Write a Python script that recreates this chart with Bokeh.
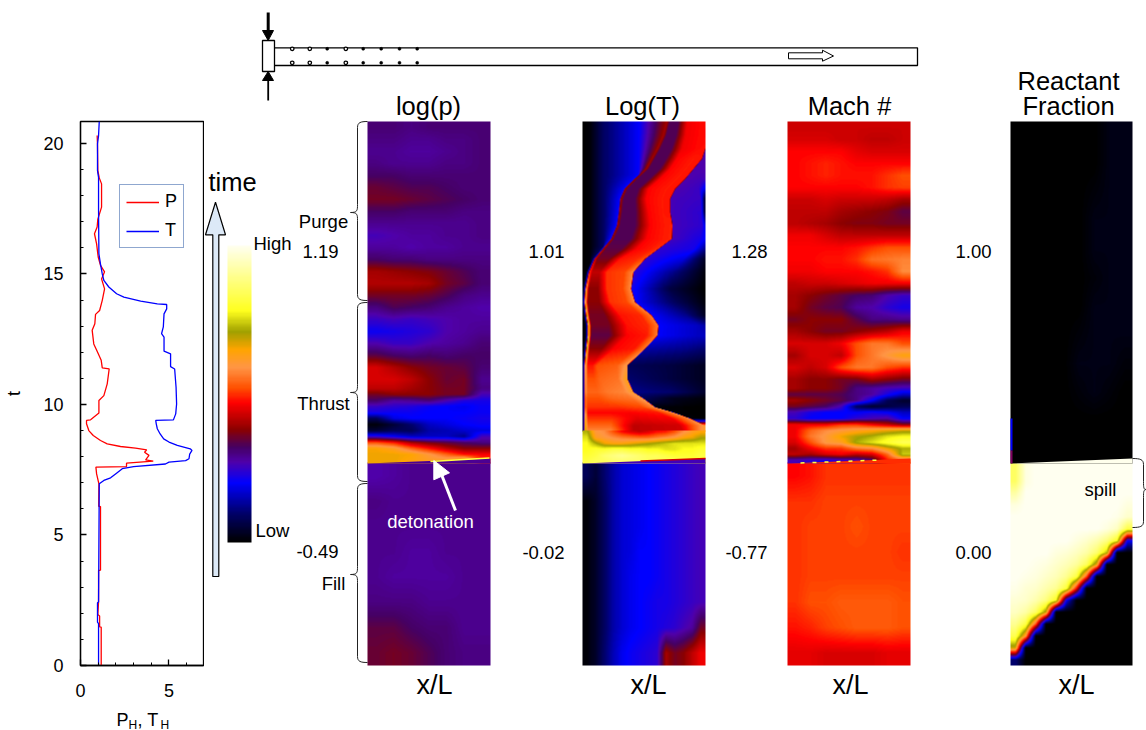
import numpy as np
from bokeh.plotting import figure
from bokeh.layouts import row, column
from bokeh.models import (Range1d, LinearColorMapper, FixedTicker, Legend)
from bokeh.core.properties import value
from bokeh.embed import file_html
from bokeh.resources import INLINE

FONT = "Liberation Sans"

# ---- history curves (t, value) ----
T_t = [0,1.6,1.66,2.4,2.43,6.96,7.09,7.19,7.35,7.54,7.62,7.72,7.79,7.85,7.92,8.1,8.24,8.3,8.35,8.43,8.56,8.68,8.87,9.07,9.26,9.39,9.41,9.64,10.02,10.66,11.36,11.45,11.94,12.04,12.58,12.71,12.97,13.47,13.66,13.83,13.85,13.96,14.11,14.24,14.5,14.75,15.0,15.38,15.77,17.43,18.7,18.96,19.98,20.3,20.84]
T_v = [1.02,1.02,0.96,0.96,1.02,1.06,1.32,1.7,2.0,2.36,3.0,4.8,5.0,5.94,6.13,6.17,6.3,6.2,5.94,5.47,5.0,4.7,4.5,4.34,4.28,4.25,5.25,5.38,5.43,5.4,5.32,5.09,5.09,4.72,4.72,4.58,4.68,4.72,4.87,4.87,4.34,3.4,2.45,2.04,1.6,1.32,1.23,1.13,1.04,1.02,1.02,0.96,0.96,1.02,1.06]
P_t = [0,1.47,1.48,1.9,1.95,2.43,3.64,3.65,6.09,6.1,6.96,7.34,7.6,7.62,7.75,7.83,7.88,8.05,8.17,8.26,8.33,8.39,8.49,8.62,8.81,9.0,9.26,9.39,9.41,9.67,10.15,10.34,10.79,11.36,11.4,11.69,12.04,12.32,12.84,13.09,13.45,13.6,13.99,14.43,14.81,15.08,15.33,15.65,16.15,16.54,16.8,17.1,17.56,18.45,18.68,18.96,19.98,20.3]
P_v = [1.17,1.17,1.08,1.08,0.98,1.02,1.02,1.13,1.13,1.03,1.04,0.91,0.87,2.6,2.6,4.11,3.68,3.87,3.62,3.74,3.11,2.26,1.51,1.13,0.72,0.47,0.34,0.34,0.57,1.04,1.04,1.32,1.51,1.62,1.23,1.17,0.94,0.75,0.66,0.81,0.85,1.08,1.23,1.36,1.19,1.36,1.13,1.0,0.91,0.79,0.94,0.98,1.19,1.19,1.06,0.98,0.96,0.94]

# ---- colour scale (level 0-100 -> colour) ----
stop_level = [0,10,20,27,32,38,47,52,59,65,71,78,100]
stop_rgb = [(0,0,0),(0,0,110),(0,0,255),(80,0,170),(70,0,100),(140,0,0),(255,0,0),(255,80,0),(255,150,70),(255,165,0),(160,160,0),(255,255,30),(255,255,240)]
bar_levels = [100,78,71,65,59,52,47,38,32,27,20,10,0]

# ---- field tables: rows top to bottom, columns left to right (colour-scale level) ----
P_upper = [
[31,31,30,31,31,31,31],[30,30,29,29,30,30,31],[29,29,28,28,29,30,31],[30,29,29,29,30,30,31],
[32,32,31,31,31,31,31],[35,34,33,33,32,31,31],[36,36,35,34,33,32,31],[32,32,31,31,31,30,30],
[29,29,29,29,29,29,30],[26,27,28,28,29,29,30],[28,28,27,28,28,29,29],[32,31,31,30,30,30,30],
[40,39,38,37,35,33,31],[41,41,41,40,36,34,31],[36,36,36,35,33,30,29],[30,33,32,31,29,28,27],
[25,26,25,26,27,28,28],[21,22,23,24,27,28,29],[27,25,25,27,28,29,31],[34,32,31,32,31,32,32],
[44,41,38,36,35,34,31],[44,44,42,38,35,36,29]]
P_mid = [
[42,42,40,38,36,36,30],[36,38,38,38,36,36,26],[32,28,29,31,27,23,22],[25,24,23,21,20,19,21],
[22,21,21,20,20,20,21],[8,18,20,20,20,21,22],[1,5,10,16,18,20,21],[5,8,8,14,15,17,18],
[24,20,16,16,16,12,26],[52,48,40,36,34,32,30],[65,62,54,48,42,38,38],[66,66,65,60,54,48,47],
[66,66,64,62,62,70,50]]
P_lower = [
[27,28,29,29,29,29,29],[30,29,29,29,29,29,29],[29,29,29,29,29,29,29],[29,29,28,28,29,29,29],
[29,28,28,28,28,29,29],[30,30,30,29,29,29,29],[34,34,32,31,31,29,29],[35,36,35,33,31,30,30]]

# Log(T) hot band, rows top to bottom, read as
# pixel row in the 3x crop, stripe x, stripe level, inner level, band start x, band level,
# outer edge x, edge level, level outside the edge, far x, far level, wall level
T_band = [
[20,290,40,33,350,46,420,47,27,425,27,27],[60,280,40,33,345,46,415,47,27,420,27,27],
[100,262,40,33,335,46,405,48,27,410,27,27],[130,245,40,33,320,47,395,48,27,400,27,27],
[160,228,40,33,300,47,370,48,27,395,27,27],[190,195,40,33,270,47,345,48,27,390,26,26],
[220,165,40,33,235,47,315,48,27,385,25,18],[250,152,40,33,228,47,300,48,26,390,25,2],
[290,148,40,33,235,47,300,48,26,392,24,3],[330,142,40,33,240,47,307,49,26,395,24,18],
[370,125,40,33,230,47,305,49,26,390,22,20],[400,100,42,34,200,47,265,50,24,370,22,12],
[430,75,44,36,150,48,225,52,24,340,18,3],[470,58,50,42,110,50,190,58,24,310,12,1],
[520,48,62,38,110,50,183,58,22,300,6,0],[560,45,68,38,120,50,195,58,20,320,8,1],
[600,50,70,36,150,48,245,56,20,350,12,3],[630,55,72,36,170,48,265,56,20,380,16,14],
[660,55,74,34,170,47,262,56,20,380,16,16],[700,50,72,38,130,47,225,56,14,350,12,10],
[750,45,64,48,80,52,172,60,8,300,6,3],[790,45,62,52,90,54,172,64,10,300,6,3],
[830,45,60,54,110,56,190,62,12,300,10,4],[849,45,56,52,120,54,220,60,8,300,3,1],
[875,45,56,50,140,50,255,58,1,380,0,0],[891,45,62,47,180,47,310,58,1,380,0,0],
[909,45,68,50,200,45,360,58,1,400,0,0],[930,45,70,54,190,42,402,60,60,410,60,60],
[948,45,72,58,190,42,415,64,64,420,64,64]]
Tf_mid = [
[72,60,58,52,47,44,42,44,47,48,52,58,62,64],
[76,62,60,58,56,55,54,54,56,58,60,64,66,70],[78,72,66,64,64,66,68,70,72,74,76,76,76,76],
[78,80,80,82,82,80,80,78,78,76,76,78,78,80],[80,82,86,88,90,88,86,84,84,82,80,80,80,82],
[82,84,84,86,86,86,86,84,84,84,84,84,80,78]]
Tf_lower = [
[8,5,10,14,17,18,19,20,21,22,23,24,25,26],[1,4,9,14,17,18,19,20,21,22,23,24,25,26],
[1,4,9,14,17,18,19,20,21,22,23,24,25,26],[1,4,9,14,17,18,20,20,21,22,23,24,25,26],
[1,4,9,14,17,19,20,20,21,22,23,24,25,26],[1,4,9,14,17,19,20,21,22,22,23,24,25,26],
[1,4,9,14,17,19,20,21,22,23,24,26,28,36],[1,4,10,15,19,21,22,23,24,40,36,38,42,46]]

M_upper = [
[43,43,43,43,43,43,43,43],[44,44,44,43,43,42,42,43],[47,47,47,47,45,44,44,44],[47,48,49,48,47,47,47,47],
[47,48,49,48,48,48,50,52],[47,47,47,47,47,48,50,51],[43,43,44,43,43,43,42,40],[42,42,42,40,39,38,37,34],
[42,41,40,38,37,37,36,36],[46,46,44,42,42,42,42,42],[47,47,47,47,48,50,52,52],[47,47,48,48,50,55,56,57],
[46,46,47,47,47,48,50,58],[42,43,43,44,45,46,46,46],[40,38,36,34,32,31,27,25],[40,36,34,33,28,27,24,22],
[36,38,38,38,34,30,30,29],[40,38,36,36,38,40,42,46],[44,44,44,46,52,56,56,52],[40,44,44,42,52,56,60,64],
[44,42,44,52,56,56,52,50],[40,38,38,36,36,40,38,36]]
M_mid = [
[40,38,38,36,30,28,26,25],[34,34,34,33,30,28,22,16],[40,38,36,34,30,20,8,4],[36,34,32,26,8,4,6,8],
[26,22,20,20,20,22,20,16],[24,20,20,20,24,26,28,20],[46,46,46,50,50,46,42,38],[46,54,58,60,62,64,66,68],
[46,56,60,66,70,72,76,78],[44,52,60,62,72,76,80,84],[40,46,50,50,56,58,66,72],[42,40,44,46,42,44,54,74],
[26,24,22,24,26,30,48,52]]
M_lower = [
[47,48,50,50,50,50,50,50],[50,50,51,51,51,51,51,51],[50,51,51,51,52,51,51,51],[50,51,51,51,51,51,51,50],
[50,51,51,51,51,51,51,51],[50,52,52,53,53,53,53,52],[48,49,51,52,53,53,53,52],[45,45,44,44,44,44,45,45]]

R_upper = [
[0,0,0,0,0,0,2,2],[0,0,0,0,0,0,2,2],[0,0,0,0,0,1,2,2],[0,0,0,0,0,2,2,2],
[0,0,0,0,0,2,2,2],[0,0,0,0,0,1,2,2],[0,0,0,0,0,2,2,2],[0,0,0,0,1,2,2,2],
[0,0,0,0,2,2,2,1],[0,0,0,0,1,2,1,0],[0,0,0,0,0,0,0,0],[0,0,0,0,0,0,0,0]]
R_lower = [
[85,98,100,100,100,100,100,100,100,100,100,100],
[85,98,100,100,100,100,100,100,100,100,100,100],
[92,100,100,100,100,100,100,100,100,100,100,100],
[98,100,100,100,100,100,100,100,100,100,100,98],
[100,100,100,100,100,100,100,100,100,100,99,96],
[100,100,100,100,100,100,100,100,100,98,95,82],
[100,100,100,100,100,100,98,96,93,88,78,20],
[100,100,100,100,98,97,95,92,86,72,0,0],
[100,100,99,98,96,94,91,84,65,0,0,0],
[100,99,98,96,94,90,82,52,0,0,0,0],
[99,97,96,93,90,81,47,0,0,0,0,0],
[97,96,93,88,78,20,0,0,0,0,0,0],
[95,92,85,68,0,0,0,0,0,0,0,0],
[90,82,52,0,0,0,0,0,0,0,0,0],
[83,60,0,0,0,0,0,0,0,0,0,0],
[68,0,0,0,0,0,0,0,0,0,0,0],
[10,0,0,0,0,0,0,0,0,0,0,0]]

# ---- texts ----
titles = ["log(p)", "Log(T)", "Mach #", "Reactant", "Fraction"]
title_x = [428, 642, 849, 1068, 1068]
title_y = [105, 105, 105, 80, 105]
xl_x = [434, 648, 850, 1076]
small_txt = ["Purge","1.19","Thrust","-0.49","Fill","1.01","-0.02","1.28","-0.77","1.00","0.00","spill"]
small_x = [323,320,323,317,333,546,543,749,746,973,973,1100]
small_y = [221,251,403,551,583,251,552,251,552,251,552,489]
hole_x = [291.7,309.3,326.7,345.3,362.7,380.7,399,416.7]
hole_open = [0,1,3]
xlabel_txt = ["P", "H", ", T", "H"]
xlabel_x = [116, 128, 137, 160]
xlabel_y = [719, 724, 719, 724]
xlabel_size = ["18px", "12px", "18px", "12px"]

# ---- geometry helpers ----
def tY(py):
    return (665 - py) / 26.1

def hexes():
    lv = np.linspace(0, 100, 256)
    r = np.interp(lv, stop_level, [s[0] for s in stop_rgb])
    g = np.interp(lv, stop_level, [s[1] for s in stop_rgb])
    b = np.interp(lv, stop_level, [s[2] for s in stop_rgb])
    return ["#%02x%02x%02x" % (int(r[i]), int(g[i]), int(b[i])) for i in range(256)]

mapper = LinearColorMapper(palette=hexes(), low=0, high=100)

# ---------- left figure ----------
left = figure(width=204, height=705, x_range=Range1d(0, 6.95), y_range=Range1d(0, 20.84),
              output_backend="svg", toolbar_location=None, frame_align=False,
              min_border_left=80, min_border_right=1, min_border_top=121, min_border_bottom=40)
left.grid.visible = False
left.outline_line_color = "black"
left.outline_line_width = 1.3
r_p = left.line(P_v, P_t, line_color="#ff0000", line_width=1.3)
r_t = left.line(T_v, T_t, line_color="#0000ff", line_width=1.3)
for ax in (left.xaxis[0], left.yaxis[0]):
    ax.axis_line_color = "black"; ax.axis_line_width = 1.3
    ax.major_tick_line_color = "black"; ax.major_tick_line_width = 1.3
    ax.minor_tick_line_color = "black"; ax.minor_tick_line_width = 1.0
    ax.major_tick_in = 6; ax.major_tick_out = 0
    ax.minor_tick_in = 3; ax.minor_tick_out = 0
    ax.major_label_text_font = FONT
    ax.major_label_text_font_size = "18px"
    ax.major_label_text_color = "black"
left.xaxis[0].ticker = FixedTicker(ticks=[0, 5], minor_ticks=[1, 2, 3, 4, 6])
left.yaxis[0].ticker = FixedTicker(ticks=[0, 5, 10, 15, 20],
                                   minor_ticks=[i for i in range(1, 20) if i % 5])
left.xaxis[0].major_label_standoff = 18
left.yaxis[0].major_label_standoff = 17
left.yaxis[0].axis_label = "t"
left.yaxis[0].axis_label_text_font = FONT
left.yaxis[0].axis_label_text_font_style = "normal"
left.yaxis[0].axis_label_text_font_size = "18px"
left.yaxis[0].axis_label_text_color = "black"
left.yaxis[0].axis_label_standoff = 16

legend = Legend(items=[("P", [r_p]), ("T", [r_t])], location=(39, 417),
                border_line_color="#1f4fa0", border_line_width=1.5,
                background_fill_alpha=1.0, label_text_font=FONT, label_text_font_size="18px",
                label_text_color="black", glyph_width=33, glyph_height=20, label_width=12,
                padding=6, spacing=8, margin=0, label_standoff=6)
left.add_layout(legend, "center")

# x-axis title with its subscripts, on a strip below the axes
cap = figure(width=204, height=25, x_range=Range1d(0, 204), y_range=Range1d(730, 705),
             output_backend="svg", toolbar_location=None, min_border=0, frame_align=False)
cap.grid.visible = False
cap.axis.visible = False
cap.outline_line_color = None
for s, x, y, sz in zip(xlabel_txt, xlabel_x, xlabel_y, xlabel_size):
    cap.text(x=[x], y=[y], text=[s], text_font=value(FONT), text_font_size=value(sz), text_color="black",
             text_align="left", text_baseline="middle")

# ---------- main figure ----------
p = figure(width=942, height=730, x_range=Range1d(204, 1146), y_range=Range1d(tY(730), tY(0)),
           output_backend="svg", toolbar_location=None, min_border=0, frame_align=False)
p.grid.visible = False
p.axis.visible = False
p.outline_line_color = None

def show(a, x0, wid, ptop, pbot):
    p.image(image=[a[::-1]], x=x0, y=tY(pbot), dw=wid, dh=tY(ptop) - tY(pbot), color_mapper=mapper)

def field(rows, row_y, x0, wid, ptop, pbot):
    # show the table at one sample per screen pixel, the way a contour image is displayed
    arr = np.array(rows, dtype=float)
    cx = (np.arange(arr.shape[1]) + .5) / arr.shape[1] * wid
    ox = np.arange(.5, wid)
    oy = np.arange(ptop + .5, pbot)
    a1 = np.array([np.interp(ox, cx, r) for r in arr])
    a2 = np.array([np.interp(oy, row_y, a1[:, j]) for j in range(a1.shape[1])]).T
    show(a2, x0, wid, ptop, pbot)

def band_field(table, x0, wid, ptop, pbot):
    tb = np.array(table, dtype=float)
    oy = np.arange(ptop + .5, pbot)
    ozy = (oy - 115) * 3
    ox = 37 + (np.arange(.5, wid)) * 368 / wid
    out = []
    for zy in ozy:
        S, Ls, Li, D, Lb, E, Le, LO, R, LR, LW = [np.interp(zy, tb[:, 0], tb[:, k]) for k in range(1, 12)]
        xs = [37, min(60, S - 10), min(100, S - 6), min(205, S - 4), S, S + 8,
              (S + 8 + D) / 2, D, E - .35 * (E - D), E - 2, E + 1, R, 405]
        xs = [max(37, v) for v in xs]
        lv = [0, 1, 9, 20, Ls, Li, Li, Lb, Lb + 1.5, Le, LO, LR, LW]
        keep_x, keep_l = [], []
        for a, b in zip(xs, lv):
            if keep_x and a <= keep_x[-1]:
                a = keep_x[-1] + 1e-3
            keep_x.append(a); keep_l.append(b)
        out.append(np.interp(ox, keep_x, keep_l))
    show(np.array(out), x0, wid, ptop, pbot)

upper_y = [127 + 12 * i for i in range(22)] + [388 + 6 * i for i in range(13)]
lower_y = [463 + 25.25 * (i + .5) for i in range(8)]
for up, mid, lo, x0 in [(P_upper, P_mid, P_lower, 367), (M_upper, M_mid, M_lower, 787)]:
    field(lo, lower_y, x0, 123, 462, 665)
    field(up + mid, upper_y, x0, 123, 121, 463)
field(Tf_lower, lower_y, 582, 123, 462, 665)
band_field(T_band, 582, 123, 121, 431)
field(Tf_mid, [431 + 6 * i for i in range(6)], 582, 123, 430, 463)
field(R_lower, [463 + 11.9 * (i + .5) for i in range(17)], 1010, 122, 462, 665)
field(R_upper, [135 + 28.5 * i for i in range(12)], 1010, 122, 121, 463)

# colour scale
field([[v] for v in bar_levels], [245 + (542 - 245) * (100 - v) / 100 for v in bar_levels], 227, 24, 245, 542)

def txt(xs, ys, ss, size, color="black", align="center"):
    p.text(x=xs, y=[tY(v) for v in ys], text=ss, text_font=value(FONT), text_font_size=value(size),
           text_color=color, text_align=align, text_baseline="middle")

txt(title_x, title_y, titles, "25.5px")
txt(xl_x, [684] * 4, ["x/L"] * 4, "27px")
txt(small_x, small_y, small_txt, "18.5px")
txt([253, 255], [243, 530], ["High", "Low"], "18.5px", align="left")
txt([232], [181], ["time"], "25.5px")
txt([430], [521], ["detonation"], "18.5px", color="white")

# front wedges in the fields
for x0, w, lev in [(367, 123, 29), (582, 123, 26), (787, 123, 50), (1010, 122, 100)]:
    rgb = mapper.palette[int(lev * 2.55)]
    p.patch([x0, x0 + w, x0 + w], [tY(463), tY(463), tY(458)], fill_color=rgb, line_color=None)

# thin details along the front
p.line([430, 489], [tY(461), tY(457.5)], line_color="#ffff40", line_width=1.5)
p.line([640, 705], [tY(460.5), tY(458)], line_color="#d00000", line_width=1.5)
p.line([800, 880], [tY(462.5), tY(459.5)], line_color="#ffff40", line_width=1.5, line_dash="4 8")
p.quad(left=[1010, 1010], right=[1012, 1012], top=[tY(418), tY(450)], bottom=[tY(450), tY(463)],
       fill_color=["#0000ff", "#800060"], line_color=None)

# time arrow
ax = [212.3, 212.3, 205, 215, 225, 218.3, 218.3]
ay = [576, 234.3, 234.3, 201.7, 234.3, 234.3, 576]
p.patch(ax, [tY(v) for v in ay], fill_color="#dce9f7", line_color="black", line_width=1.2)
p.line([212.3, 218.3], [tY(576), tY(576)], line_color="black", line_width=1.2)

# braces
def brace(x0, xm, xp, y0, yp, y1):
    for a, b in [(y0, yp), (y1, yp)]:
        s = 1 if b > a else -1
        p.bezier(x0=[x0], y0=[tY(a)], x1=[xm], y1=[tY(a + s * 6)], cx0=[xm + (x0 - xm) * .3], cy0=[tY(a)],
                 cx1=[xm], cy1=[tY(a + s)], line_color="#222222", line_width=1)
        p.line([xm, xm], [tY(a + s * 6), tY(b - s * 8)], line_color="#222222", line_width=1)
        p.bezier(x0=[xm], y0=[tY(b - s * 8)], x1=[xp], y1=[tY(b)], cx0=[xm], cy0=[tY(b - s * 2)],
                 cx1=[xm], cy1=[tY(b)], line_color="#222222", line_width=1)

brace(367, 357, 350, 121, 212, 300)
brace(367, 357, 350, 302, 392, 481)
brace(367, 357, 350, 483, 574, 662)
brace(1132, 1143, 1146, 458, 489, 527)

# detonation arrow
p.patch([433.3, 433.3, 449], [tY(460), tY(479.3), tY(472.3)], fill_color="white", line_color="white", line_width=1)
p.line([441, 455], [tY(474), tY(510)], line_color="white", line_width=3)

# schematic tube
p.line([274, 917, 917, 274], [tY(47.3), tY(47.3), tY(65), tY(65)], line_color="black", line_width=1.3)
p.quad(left=[262], right=[274], top=[tY(40)], bottom=[tY(71)], fill_color="white", line_color="black", line_width=1.3)
for yy in (48.3, 62.3):
    xo = [hole_x[i] for i in range(8) if i in hole_open]
    xs = [hole_x[i] for i in range(8) if i not in hole_open]
    p.scatter(xo, [tY(yy)] * len(xo), size=3.5, fill_color="white", line_color="black", line_width=1.3)
    p.scatter(xs, [tY(yy)] * len(xs), size=3, fill_color="black", line_color="black", line_width=0.5)
p.line([267.7, 267.7], [tY(12), tY(30)], line_color="black", line_width=3)
p.patch([262, 273, 267.7], [tY(30), tY(30), tY(40)], fill_color="black", line_color="black")
p.line([267.7, 267.7], [tY(100), tY(80)], line_color="black", line_width=1.8)
p.patch([262, 273, 267.7], [tY(80), tY(80), tY(71)], fill_color="black", line_color="black")
p.patch([788, 822, 822, 833, 822, 822, 788], [tY(v) for v in [52.3, 52.3, 49.7, 55.5, 60.7, 58.3, 58.3]],
        fill_color="white", line_color="black", line_width=1)

page = row(column(left, cap, spacing=0), p, spacing=0)
open("out.html", "w").write(file_html(page, INLINE))
